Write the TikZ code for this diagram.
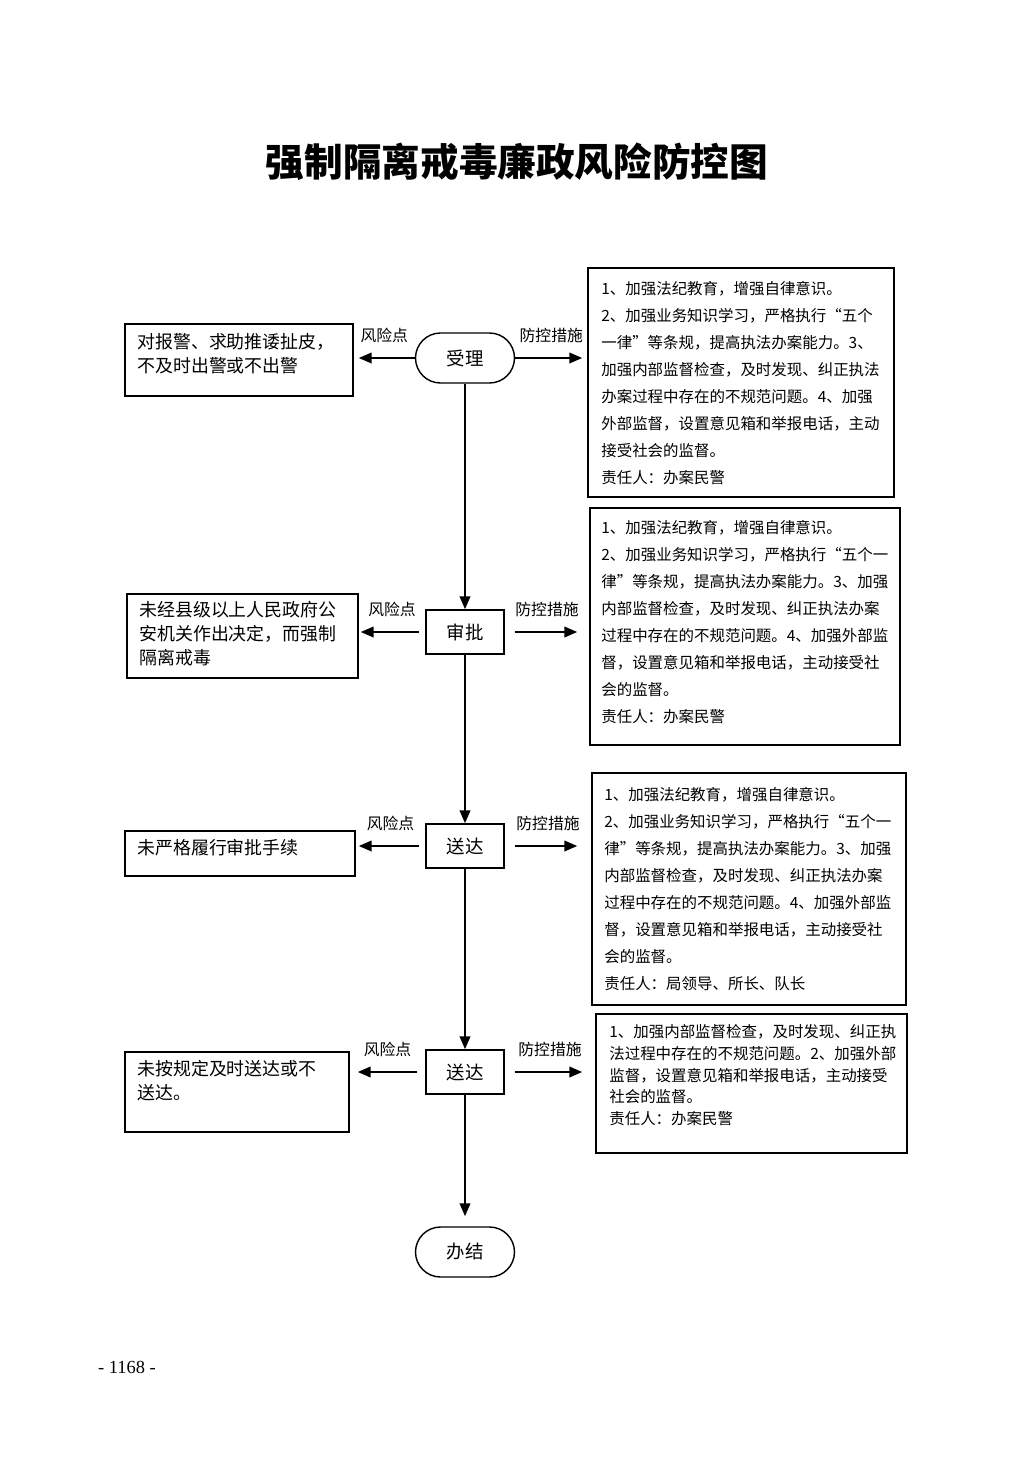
\documentclass[tikz,border=0pt]{standalone}
\usepackage{fontspec}
\setmainfont{Noto Sans CJK SC}
\newfontfamily\pagefont{Liberation Serif}
\usetikzlibrary{arrows.meta,fit}

\begin{document}
\begin{tikzpicture}[x=0.02cm, y=-0.02cm,
    every node/.style={font=\fontsize{8.8}{15.4}\selectfont},
    stepbox/.style={draw, line width=0.8pt, minimum width=1.56cm, minimum height=0.88cm, font=\fontsize{10.5}{12}\selectfont},
    endbox/.style={draw, rounded corners=0.5cm, line width=0.8pt, minimum width=1.98cm, minimum height=1cm, font=\fontsize{10.5}{12}\selectfont},
    framebox/.style={draw, line width=0.8pt, inner sep=0pt},
    measure/.style={anchor=north west, inner sep=0pt, align=left},
    risk/.style={anchor=north west, inner sep=0pt, align=left, font=\fontsize{10.2}{13.7}\selectfont},
    flow/.style={-{Triangle[length=2.6mm, width=2.1mm]}, line width=1.3pt},
    tag/.style={above=0.28cm, inner sep=0pt, font=\fontsize{9}{10}\selectfont}]

    \fill[white] (0,0) rectangle (1033,1461);

    % Title
    \node[font=\fontsize{22}{26}\selectfont\bfseries] (title) at (517,162) {强制隔离戒毒廉政风险防控图};

    % Main steps
    \node[endbox] (accept) at (465,358) {受理};
    \node[stepbox] (approve) at (465,632) {审批};
    \node[stepbox] (deliver) at (465,846) {送达};
    \node[stepbox] (serve) at (465,1072) {送达};
    \node[endbox] (close) at (465,1252) {办结};

    % Risk points
    \node[framebox, fit={(125,324) (353,396)}] (risk1) {};
    \node[risk] at (137,333) {对报警、求助推诿扯皮，\\不及时出警或不出警};
    \node[framebox, fit={(127,594) (358,678)}] (risk2) {};
    \node[risk] at (139,601) {未经县级以上人民政府公\\安机关作出决定，而强制\\隔离戒毒};
    \node[framebox, fit={(125,831) (355,876)}] (risk3) {};
    \node[risk] at (137,839) {未严格履行审批手续};
    \node[framebox, fit={(125,1052) (349,1132)}] (risk4) {};
    \node[risk] at (137,1060) {未按规定及时送达或不\\送达。};

    % Control measures
    \node[framebox, fit={(588,268) (894,497)}] (plan1) {};
    \node[measure] at (601,281) {1、加强法纪教育，增强自律意识。\\2、加强业务知识学习，严格执行“五个\\一律”等条规，提高执法办案能力。3、\\加强内部监督检查，及时发现、纠正执法\\办案过程中存在的不规范问题。4、加强\\外部监督，设置意见箱和举报电话，主动\\接受社会的监督。\\责任人：办案民警};
    \node[framebox, fit={(590,508) (900,745)}] (plan2) {};
    \node[measure] at (601,520) {1、加强法纪教育，增强自律意识。\\2、加强业务知识学习，严格执行“五个一\\律”等条规，提高执法办案能力。3、加强\\内部监督检查，及时发现、纠正执法办案\\过程中存在的不规范问题。4、加强外部监\\督，设置意见箱和举报电话，主动接受社\\会的监督。\\责任人：办案民警};
    \node[framebox, fit={(592,773) (906,1005)}] (plan3) {};
    \node[measure] at (604,787) {1、加强法纪教育，增强自律意识。\\2、加强业务知识学习，严格执行“五个一\\律”等条规，提高执法办案能力。3、加强\\内部监督检查，及时发现、纠正执法办案\\过程中存在的不规范问题。4、加强外部监\\督，设置意见箱和举报电话，主动接受社\\会的监督。\\责任人：局领导、所长、队长};
    \node[framebox, fit={(596,1014) (907,1153)}] (plan4) {};
    \node[measure, font=\fontsize{8.8}{12.4}\selectfont] at (609,1024) {1、加强内部监督检查，及时发现、纠正执\\法过程中存在的不规范问题。2、加强外部\\监督，设置意见箱和举报电话，主动接受\\社会的监督。\\责任人：办案民警};

    % Edges
    \draw[flow, shorten >=0.1cm] (accept.west) -- node[tag] {风险点} (accept.west -| risk1.east);
    \draw[flow, shorten >=0.1cm] (accept.east) -- node[tag] {防控措施} (accept.east -| plan1.west);
    \draw[flow, shorten <=0.12cm, shorten >=0.04cm] (approve.west) -- node[tag] {风险点} (approve.west -| risk2.east);
    \draw[flow, shorten <=0.2cm, shorten >=0.24cm] (approve.east) -- node[tag] {防控措施} (approve.east -| plan2.west);
    \draw[flow, shorten <=0.12cm, shorten >=0.06cm] (deliver.west) -- node[tag] {风险点} (deliver.west -| risk3.east);
    \draw[flow, shorten <=0.2cm, shorten >=0.28cm] (deliver.east) -- node[tag] {防控措施} (deliver.east -| plan3.west);
    \draw[flow, shorten <=0.16cm, shorten >=0.16cm] (serve.west) -- node[tag] {风险点} (serve.west -| risk4.east);
    \draw[flow, shorten <=0.2cm, shorten >=0.26cm] (serve.east) -- node[tag] {防控措施} (serve.east -| plan4.west);
    \draw[flow] (accept) -- (approve);
    \draw[flow] (approve) -- (deliver);
    \draw[flow] (deliver) -- (serve);
    \draw[flow, shorten >=0.2cm] (serve) -- (close);

    % Page number
    \node[font=\pagefont\fontsize{10.5}{12}\selectfont] (page) at (127,1367) {- 1168 -};
\end{tikzpicture}
\end{document}
